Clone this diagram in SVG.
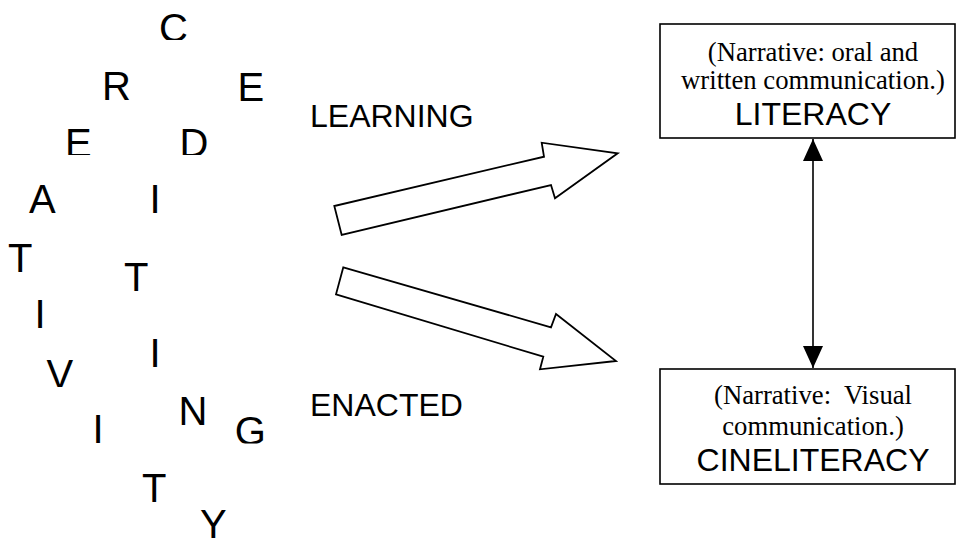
<svg xmlns="http://www.w3.org/2000/svg" width="956" height="540" viewBox="0 0 956 540">
<style>
.big{font-family:"Liberation Sans",Arial,sans-serif;font-size:40px;fill:#000}
.lab{font-family:"Liberation Sans",Arial,sans-serif;font-size:32px;fill:#000}
.nar{font-family:"Liberation Serif","Times New Roman",serif;font-size:26.7px;fill:#000;text-anchor:middle}
.ttl{font-family:"Liberation Sans",Arial,sans-serif;font-size:32px;fill:#000;text-anchor:middle}
.box{fill:#fff;stroke:#000;stroke-width:1.6}
.blk{fill:#fff;stroke:#000;stroke-width:1.8;stroke-linejoin:miter}
.conn{stroke:#000;stroke-width:1.6;fill:none}
</style>
<defs>
<marker id="ah" viewBox="0 0 22 20" markerWidth="22" markerHeight="20" markerUnits="userSpaceOnUse" refX="22" refY="10" orient="auto-start-reverse">
<path d="M0,0 L22,10 L0,20 z" fill="#000"/>
</marker>
<clipPath id="cC"><rect x="150" y="0" width="50" height="40"/></clipPath>
<clipPath id="cE"><rect x="55" y="110" width="170" height="45"/></clipPath>
<clipPath id="cV"><rect x="40" y="340" width="40" height="47"/></clipPath>
<clipPath id="cG"><rect x="225" y="400" width="50" height="43.5"/></clipPath>
</defs>
<g id="word">
<text class="big" x="159" y="42" clip-path="url(#cC)">C</text>
<text class="big" x="102" y="100">R</text>
<text class="big" x="237.5" y="101">E</text>
<text class="big" x="65" y="157" clip-path="url(#cE)">E</text>
<text class="big" x="179.5" y="157" clip-path="url(#cE)">D</text>
<text class="big" x="29" y="213">A</text>
<text class="big" x="149.5" y="213">I</text>
<text class="big" x="8" y="272">T</text>
<text class="big" x="124" y="291">T</text>
<text class="big" x="34.5" y="328">I</text>
<text class="big" x="149.5" y="367">I</text>
<text class="big" x="46.5" y="388" clip-path="url(#cV)">V</text>
<text class="big" x="178.6" y="425">N</text>
<text class="big" x="234.7" y="445" clip-path="url(#cG)">G</text>
<text class="big" x="92.5" y="443">I</text>
<text class="big" x="142" y="502">T</text>
<text class="big" x="200" y="538">Y</text>
</g>
<g id="learning"><text class="lab" x="310" y="127">LEARNING</text></g>
<g id="enacted"><text class="lab" x="310" y="416">ENACTED</text></g>
<g id="arrow-up"><polygon class="blk" points="341.7,235 334.3,206 544,156.7 541.7,142.7 617.7,153.3 555,198.3 551,185"/></g>
<g id="arrow-down"><polygon class="blk" points="343.3,267.3 336,294.3 543.3,356.7 540,369.3 616,361 556,314 551,327.3"/></g>
<g id="literacy">
<rect class="box" x="660" y="24" width="295" height="114"/>
<text class="nar" x="813" y="61">(Narrative: oral and</text>
<text class="nar" x="813" y="89">written communication.)</text>
<text class="ttl" x="813" y="125">LITERACY</text>
</g>
<g id="cineliteracy">
<rect class="box" x="660" y="369" width="295" height="115"/>
<text class="nar" x="813" y="404" xml:space="preserve">(Narrative:  Visual</text>
<text class="nar" x="813" y="435">communication.)</text>
<text class="ttl" x="813" y="471">CINELITERACY</text>
</g>
<g id="connectors">
<line class="conn" x1="813" y1="139" x2="813" y2="368" marker-start="url(#ah)" marker-end="url(#ah)"/>
</g>
</svg>
